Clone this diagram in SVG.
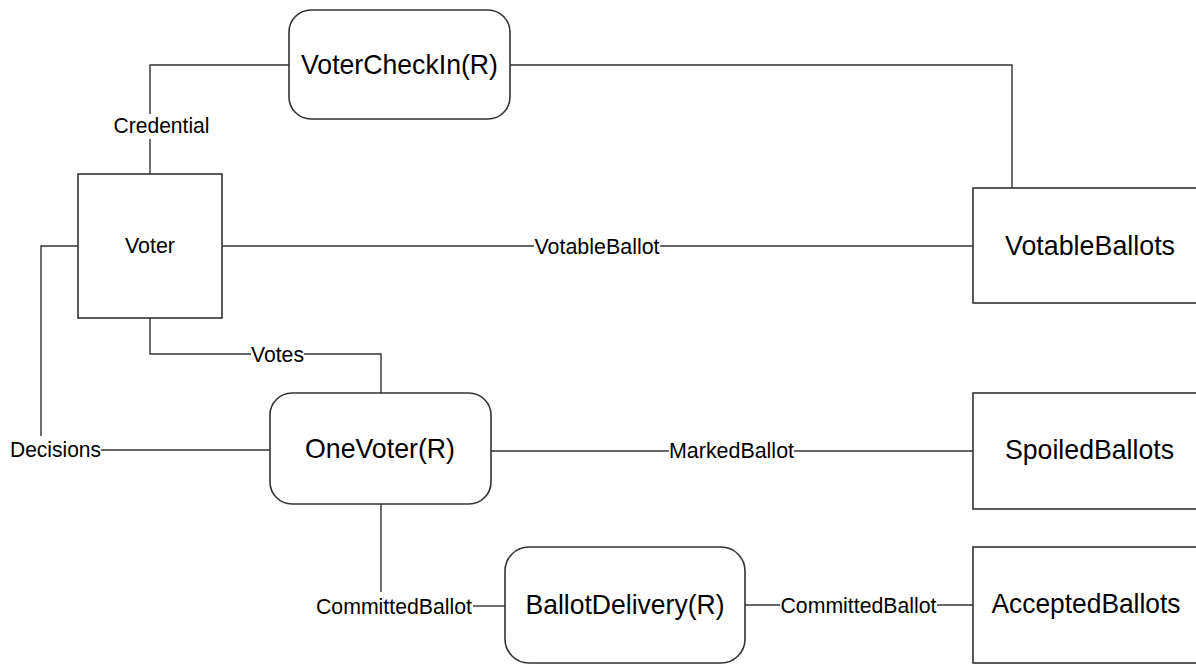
<svg xmlns="http://www.w3.org/2000/svg" width="1196" height="665" viewBox="0 0 1196 665">
<style>
.box{fill:#fff;stroke:#333;stroke-width:1.6}
.conn{fill:none;stroke:#333;stroke-width:1.4}
.title{font-family:"Liberation Sans",Arial,sans-serif;font-size:28px;fill:#000;text-anchor:middle}
.lbl{font-family:"Liberation Sans",Arial,sans-serif;font-size:21.5px;fill:#000;text-anchor:middle}
</style>
<rect width="1196" height="665" fill="#fff"/>
<g id="connectors">
<polyline class="conn" points="289,65 150,65 150,114"/>
<line class="conn" x1="150" y1="139" x2="150" y2="174"/>
<polyline class="conn" points="510,65 1012,65 1012,188"/>
<line class="conn" x1="222" y1="246" x2="534" y2="246"/>
<line class="conn" x1="660" y1="246" x2="973" y2="246"/>
<polyline class="conn" points="78,246 41,246 41,436"/>
<line class="conn" x1="101" y1="450" x2="270" y2="450"/>
<polyline class="conn" points="150,318 150,354 251,354"/>
<polyline class="conn" points="304,354 381,354 381,393"/>
<line class="conn" x1="491" y1="451" x2="669" y2="451"/>
<line class="conn" x1="794" y1="451" x2="973" y2="451"/>
<line class="conn" x1="381" y1="504" x2="381" y2="592"/>
<line class="conn" x1="473" y1="606" x2="505" y2="606"/>
<line class="conn" x1="745" y1="605" x2="780" y2="605"/>
<line class="conn" x1="937" y1="605" x2="973" y2="605"/>
<text class="lbl" x="161.5" y="132.5" textLength="96" lengthAdjust="spacingAndGlyphs">Credential</text>
<text class="lbl" x="597" y="253.5" textLength="125" lengthAdjust="spacingAndGlyphs">VotableBallot</text>
<text class="lbl" x="277.5" y="361.5" textLength="53" lengthAdjust="spacingAndGlyphs">Votes</text>
<text class="lbl" x="55.5" y="457" textLength="91" lengthAdjust="spacingAndGlyphs">Decisions</text>
<text class="lbl" x="731.5" y="458" textLength="125" lengthAdjust="spacingAndGlyphs">MarkedBallot</text>
<text class="lbl" x="394" y="613.5" textLength="156" lengthAdjust="spacingAndGlyphs">CommittedBallot</text>
<text class="lbl" x="858.5" y="612.5" textLength="156" lengthAdjust="spacingAndGlyphs">CommittedBallot</text>
</g>
<g id="VoterCheckIn">
<rect class="box" x="289" y="10" width="221" height="109" rx="22" ry="22"/>
<text class="title" x="399.5" y="73.5" textLength="197" lengthAdjust="spacingAndGlyphs">VoterCheckIn(R)</text>
</g>
<g id="Voter">
<rect class="box" x="78" y="174" width="144" height="144"/>
<text class="lbl" x="150" y="252.5" textLength="50" lengthAdjust="spacingAndGlyphs">Voter</text>
</g>
<g id="VotableBallots">
<rect class="box" x="973" y="188" width="240" height="115"/>
<text class="title" x="1090" y="254.5" textLength="170" lengthAdjust="spacingAndGlyphs">VotableBallots</text>
</g>
<g id="OneVoter">
<rect class="box" x="270" y="393" width="221" height="111" rx="22" ry="22"/>
<text class="title" x="380" y="457.5" textLength="150" lengthAdjust="spacingAndGlyphs">OneVoter(R)</text>
</g>
<g id="SpoiledBallots">
<rect class="box" x="973" y="393" width="240" height="116"/>
<text class="title" x="1089.5" y="459" textLength="169" lengthAdjust="spacingAndGlyphs">SpoiledBallots</text>
</g>
<g id="BallotDelivery">
<rect class="box" x="505" y="547" width="240" height="116" rx="24" ry="24"/>
<text class="title" x="625" y="614" textLength="199" lengthAdjust="spacingAndGlyphs">BallotDelivery(R)</text>
</g>
<g id="AcceptedBallots">
<rect class="box" x="973" y="547" width="240" height="116"/>
<text class="title" x="1086" y="613" textLength="189" lengthAdjust="spacingAndGlyphs">AcceptedBallots</text>
</g>
</svg>
